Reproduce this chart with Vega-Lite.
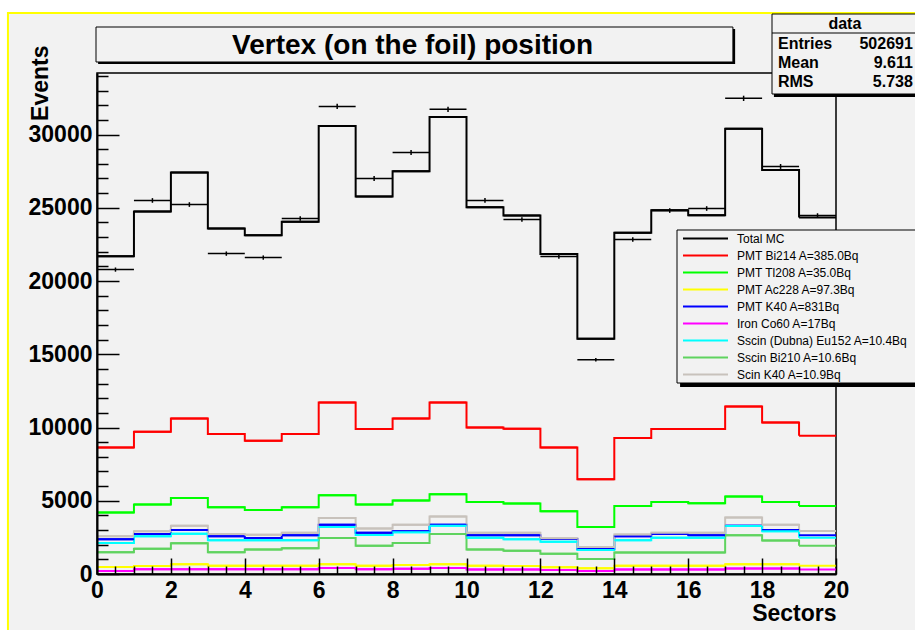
{
  "$schema": "https://vega.github.io/schema/vega-lite/v6.json",
  "width": 739,
  "height": 501,
  "autosize": {"type": "none"},
  "padding": {"left": 97, "top": 73, "right": 79, "bottom": 56},
  "background": "white",
  "config": {"view": {"stroke": null}, "font": "Liberation Sans"},
  "datasets": {
    "blank": [{}],
    "stats": [
      {"stat": "Entries", "value": "502691"},
      {"stat": "Mean", "value": "9.611"},
      {"stat": "RMS", "value": "5.738"}
    ],
    "obs": [
      {"lo": 0, "hi": 1, "mid": 0.5, "events": 20780, "err": 144},
      {"lo": 1, "hi": 2, "mid": 1.5, "events": 25500, "err": 160},
      {"lo": 2, "hi": 3, "mid": 2.5, "events": 25220, "err": 159},
      {"lo": 3, "hi": 4, "mid": 3.5, "events": 21870, "err": 148},
      {"lo": 4, "hi": 5, "mid": 4.5, "events": 21600, "err": 147},
      {"lo": 5, "hi": 6, "mid": 5.5, "events": 24270, "err": 156},
      {"lo": 6, "hi": 7, "mid": 6.5, "events": 31920, "err": 179},
      {"lo": 7, "hi": 8, "mid": 7.5, "events": 27000, "err": 164},
      {"lo": 8, "hi": 9, "mid": 8.5, "events": 28780, "err": 170},
      {"lo": 9, "hi": 10, "mid": 9.5, "events": 31720, "err": 178},
      {"lo": 10, "hi": 11, "mid": 10.5, "events": 25500, "err": 160},
      {"lo": 11, "hi": 12, "mid": 11.5, "events": 24200, "err": 156},
      {"lo": 12, "hi": 13, "mid": 12.5, "events": 21670, "err": 147},
      {"lo": 13, "hi": 14, "mid": 13.5, "events": 14630, "err": 121},
      {"lo": 14, "hi": 15, "mid": 14.5, "events": 22830, "err": 151},
      {"lo": 15, "hi": 16, "mid": 15.5, "events": 24810, "err": 158},
      {"lo": 16, "hi": 17, "mid": 16.5, "events": 24950, "err": 158},
      {"lo": 17, "hi": 18, "mid": 17.5, "events": 32470, "err": 180},
      {"lo": 18, "hi": 19, "mid": 18.5, "events": 27820, "err": 167},
      {"lo": 19, "hi": 20, "mid": 19.5, "events": 24470, "err": 156}
    ],
    "mc": [
      {"series": "Total MC", "lo": 0, "hi": 1, "events": 21690},
      {"series": "Total MC", "lo": 1, "hi": 2, "events": 24740},
      {"series": "Total MC", "lo": 2, "hi": 3, "events": 27410},
      {"series": "Total MC", "lo": 3, "hi": 4, "events": 23580},
      {"series": "Total MC", "lo": 4, "hi": 5, "events": 23120},
      {"series": "Total MC", "lo": 5, "hi": 6, "events": 24040},
      {"series": "Total MC", "lo": 6, "hi": 7, "events": 30580},
      {"series": "Total MC", "lo": 7, "hi": 8, "events": 25770},
      {"series": "Total MC", "lo": 8, "hi": 9, "events": 27500},
      {"series": "Total MC", "lo": 9, "hi": 10, "events": 31190},
      {"series": "Total MC", "lo": 10, "hi": 11, "events": 25040},
      {"series": "Total MC", "lo": 11, "hi": 12, "events": 24470},
      {"series": "Total MC", "lo": 12, "hi": 13, "events": 21850},
      {"series": "Total MC", "lo": 13, "hi": 14, "events": 16060},
      {"series": "Total MC", "lo": 14, "hi": 15, "events": 23290},
      {"series": "Total MC", "lo": 15, "hi": 16, "events": 24830},
      {"series": "Total MC", "lo": 16, "hi": 17, "events": 24490},
      {"series": "Total MC", "lo": 17, "hi": 18, "events": 30400},
      {"series": "Total MC", "lo": 18, "hi": 19, "events": 27570},
      {"series": "Total MC", "lo": 19, "hi": 20, "events": 24330},
      {"series": "PMT Bi214 A=385.0Bq", "lo": 0, "hi": 1, "events": 8630},
      {"series": "PMT Bi214 A=385.0Bq", "lo": 1, "hi": 2, "events": 9710},
      {"series": "PMT Bi214 A=385.0Bq", "lo": 2, "hi": 3, "events": 10620},
      {"series": "PMT Bi214 A=385.0Bq", "lo": 3, "hi": 4, "events": 9550},
      {"series": "PMT Bi214 A=385.0Bq", "lo": 4, "hi": 5, "events": 9090},
      {"series": "PMT Bi214 A=385.0Bq", "lo": 5, "hi": 6, "events": 9550},
      {"series": "PMT Bi214 A=385.0Bq", "lo": 6, "hi": 7, "events": 11710},
      {"series": "PMT Bi214 A=385.0Bq", "lo": 7, "hi": 8, "events": 9890},
      {"series": "PMT Bi214 A=385.0Bq", "lo": 8, "hi": 9, "events": 10620},
      {"series": "PMT Bi214 A=385.0Bq", "lo": 9, "hi": 10, "events": 11710},
      {"series": "PMT Bi214 A=385.0Bq", "lo": 10, "hi": 11, "events": 10000},
      {"series": "PMT Bi214 A=385.0Bq", "lo": 11, "hi": 12, "events": 9910},
      {"series": "PMT Bi214 A=385.0Bq", "lo": 12, "hi": 13, "events": 8630},
      {"series": "PMT Bi214 A=385.0Bq", "lo": 13, "hi": 14, "events": 6470},
      {"series": "PMT Bi214 A=385.0Bq", "lo": 14, "hi": 15, "events": 9280},
      {"series": "PMT Bi214 A=385.0Bq", "lo": 15, "hi": 16, "events": 9890},
      {"series": "PMT Bi214 A=385.0Bq", "lo": 16, "hi": 17, "events": 9890},
      {"series": "PMT Bi214 A=385.0Bq", "lo": 17, "hi": 18, "events": 11440},
      {"series": "PMT Bi214 A=385.0Bq", "lo": 18, "hi": 19, "events": 10340},
      {"series": "PMT Bi214 A=385.0Bq", "lo": 19, "hi": 20, "events": 9430},
      {"series": "PMT Tl208 A=35.0Bq", "lo": 0, "hi": 1, "events": 4190},
      {"series": "PMT Tl208 A=35.0Bq", "lo": 1, "hi": 2, "events": 4740},
      {"series": "PMT Tl208 A=35.0Bq", "lo": 2, "hi": 3, "events": 5190},
      {"series": "PMT Tl208 A=35.0Bq", "lo": 3, "hi": 4, "events": 4560},
      {"series": "PMT Tl208 A=35.0Bq", "lo": 4, "hi": 5, "events": 4370},
      {"series": "PMT Tl208 A=35.0Bq", "lo": 5, "hi": 6, "events": 4560},
      {"series": "PMT Tl208 A=35.0Bq", "lo": 6, "hi": 7, "events": 5380},
      {"series": "PMT Tl208 A=35.0Bq", "lo": 7, "hi": 8, "events": 4740},
      {"series": "PMT Tl208 A=35.0Bq", "lo": 8, "hi": 9, "events": 5010},
      {"series": "PMT Tl208 A=35.0Bq", "lo": 9, "hi": 10, "events": 5450},
      {"series": "PMT Tl208 A=35.0Bq", "lo": 10, "hi": 11, "events": 4920},
      {"series": "PMT Tl208 A=35.0Bq", "lo": 11, "hi": 12, "events": 4810},
      {"series": "PMT Tl208 A=35.0Bq", "lo": 12, "hi": 13, "events": 4290},
      {"series": "PMT Tl208 A=35.0Bq", "lo": 13, "hi": 14, "events": 3210},
      {"series": "PMT Tl208 A=35.0Bq", "lo": 14, "hi": 15, "events": 4650},
      {"series": "PMT Tl208 A=35.0Bq", "lo": 15, "hi": 16, "events": 4920},
      {"series": "PMT Tl208 A=35.0Bq", "lo": 16, "hi": 17, "events": 4830},
      {"series": "PMT Tl208 A=35.0Bq", "lo": 17, "hi": 18, "events": 5290},
      {"series": "PMT Tl208 A=35.0Bq", "lo": 18, "hi": 19, "events": 4920},
      {"series": "PMT Tl208 A=35.0Bq", "lo": 19, "hi": 20, "events": 4650},
      {"series": "PMT Ac228 A=97.3Bq", "lo": 0, "hi": 1, "events": 470},
      {"series": "PMT Ac228 A=97.3Bq", "lo": 1, "hi": 2, "events": 550},
      {"series": "PMT Ac228 A=97.3Bq", "lo": 2, "hi": 3, "events": 660},
      {"series": "PMT Ac228 A=97.3Bq", "lo": 3, "hi": 4, "events": 570},
      {"series": "PMT Ac228 A=97.3Bq", "lo": 4, "hi": 5, "events": 570},
      {"series": "PMT Ac228 A=97.3Bq", "lo": 5, "hi": 6, "events": 570},
      {"series": "PMT Ac228 A=97.3Bq", "lo": 6, "hi": 7, "events": 660},
      {"series": "PMT Ac228 A=97.3Bq", "lo": 7, "hi": 8, "events": 570},
      {"series": "PMT Ac228 A=97.3Bq", "lo": 8, "hi": 9, "events": 620},
      {"series": "PMT Ac228 A=97.3Bq", "lo": 9, "hi": 10, "events": 660},
      {"series": "PMT Ac228 A=97.3Bq", "lo": 10, "hi": 11, "events": 570},
      {"series": "PMT Ac228 A=97.3Bq", "lo": 11, "hi": 12, "events": 540},
      {"series": "PMT Ac228 A=97.3Bq", "lo": 12, "hi": 13, "events": 460},
      {"series": "PMT Ac228 A=97.3Bq", "lo": 13, "hi": 14, "events": 390},
      {"series": "PMT Ac228 A=97.3Bq", "lo": 14, "hi": 15, "events": 570},
      {"series": "PMT Ac228 A=97.3Bq", "lo": 15, "hi": 16, "events": 570},
      {"series": "PMT Ac228 A=97.3Bq", "lo": 16, "hi": 17, "events": 570},
      {"series": "PMT Ac228 A=97.3Bq", "lo": 17, "hi": 18, "events": 660},
      {"series": "PMT Ac228 A=97.3Bq", "lo": 18, "hi": 19, "events": 660},
      {"series": "PMT Ac228 A=97.3Bq", "lo": 19, "hi": 20, "events": 570},
      {"series": "PMT K40 A=831Bq", "lo": 0, "hi": 1, "events": 2370},
      {"series": "PMT K40 A=831Bq", "lo": 1, "hi": 2, "events": 2730},
      {"series": "PMT K40 A=831Bq", "lo": 2, "hi": 3, "events": 3010},
      {"series": "PMT K40 A=831Bq", "lo": 3, "hi": 4, "events": 2580},
      {"series": "PMT K40 A=831Bq", "lo": 4, "hi": 5, "events": 2460},
      {"series": "PMT K40 A=831Bq", "lo": 5, "hi": 6, "events": 2640},
      {"series": "PMT K40 A=831Bq", "lo": 6, "hi": 7, "events": 3370},
      {"series": "PMT K40 A=831Bq", "lo": 7, "hi": 8, "events": 2820},
      {"series": "PMT K40 A=831Bq", "lo": 8, "hi": 9, "events": 2920},
      {"series": "PMT K40 A=831Bq", "lo": 9, "hi": 10, "events": 3370},
      {"series": "PMT K40 A=831Bq", "lo": 10, "hi": 11, "events": 2640},
      {"series": "PMT K40 A=831Bq", "lo": 11, "hi": 12, "events": 2640},
      {"series": "PMT K40 A=831Bq", "lo": 12, "hi": 13, "events": 2390},
      {"series": "PMT K40 A=831Bq", "lo": 13, "hi": 14, "events": 1710},
      {"series": "PMT K40 A=831Bq", "lo": 14, "hi": 15, "events": 2580},
      {"series": "PMT K40 A=831Bq", "lo": 15, "hi": 16, "events": 2730},
      {"series": "PMT K40 A=831Bq", "lo": 16, "hi": 17, "events": 2640},
      {"series": "PMT K40 A=831Bq", "lo": 17, "hi": 18, "events": 3300},
      {"series": "PMT K40 A=831Bq", "lo": 18, "hi": 19, "events": 3010},
      {"series": "PMT K40 A=831Bq", "lo": 19, "hi": 20, "events": 2640},
      {"series": "Iron Co60 A=17Bq", "lo": 0, "hi": 1, "events": 200},
      {"series": "Iron Co60 A=17Bq", "lo": 1, "hi": 2, "events": 320},
      {"series": "Iron Co60 A=17Bq", "lo": 2, "hi": 3, "events": 320},
      {"series": "Iron Co60 A=17Bq", "lo": 3, "hi": 4, "events": 320},
      {"series": "Iron Co60 A=17Bq", "lo": 4, "hi": 5, "events": 320},
      {"series": "Iron Co60 A=17Bq", "lo": 5, "hi": 6, "events": 320},
      {"series": "Iron Co60 A=17Bq", "lo": 6, "hi": 7, "events": 410},
      {"series": "Iron Co60 A=17Bq", "lo": 7, "hi": 8, "events": 320},
      {"series": "Iron Co60 A=17Bq", "lo": 8, "hi": 9, "events": 350},
      {"series": "Iron Co60 A=17Bq", "lo": 9, "hi": 10, "events": 410},
      {"series": "Iron Co60 A=17Bq", "lo": 10, "hi": 11, "events": 300},
      {"series": "Iron Co60 A=17Bq", "lo": 11, "hi": 12, "events": 300},
      {"series": "Iron Co60 A=17Bq", "lo": 12, "hi": 13, "events": 280},
      {"series": "Iron Co60 A=17Bq", "lo": 13, "hi": 14, "events": 200},
      {"series": "Iron Co60 A=17Bq", "lo": 14, "hi": 15, "events": 300},
      {"series": "Iron Co60 A=17Bq", "lo": 15, "hi": 16, "events": 300},
      {"series": "Iron Co60 A=17Bq", "lo": 16, "hi": 17, "events": 300},
      {"series": "Iron Co60 A=17Bq", "lo": 17, "hi": 18, "events": 380},
      {"series": "Iron Co60 A=17Bq", "lo": 18, "hi": 19, "events": 380},
      {"series": "Iron Co60 A=17Bq", "lo": 19, "hi": 20, "events": 300},
      {"series": "Sscin (Dubna) Eu152 A=10.4Bq", "lo": 0, "hi": 1, "events": 2120},
      {"series": "Sscin (Dubna) Eu152 A=10.4Bq", "lo": 1, "hi": 2, "events": 2580},
      {"series": "Sscin (Dubna) Eu152 A=10.4Bq", "lo": 2, "hi": 3, "events": 2750},
      {"series": "Sscin (Dubna) Eu152 A=10.4Bq", "lo": 3, "hi": 4, "events": 2300},
      {"series": "Sscin (Dubna) Eu152 A=10.4Bq", "lo": 4, "hi": 5, "events": 2300},
      {"series": "Sscin (Dubna) Eu152 A=10.4Bq", "lo": 5, "hi": 6, "events": 2300},
      {"series": "Sscin (Dubna) Eu152 A=10.4Bq", "lo": 6, "hi": 7, "events": 3210},
      {"series": "Sscin (Dubna) Eu152 A=10.4Bq", "lo": 7, "hi": 8, "events": 2660},
      {"series": "Sscin (Dubna) Eu152 A=10.4Bq", "lo": 8, "hi": 9, "events": 2850},
      {"series": "Sscin (Dubna) Eu152 A=10.4Bq", "lo": 9, "hi": 10, "events": 3300},
      {"series": "Sscin (Dubna) Eu152 A=10.4Bq", "lo": 10, "hi": 11, "events": 2480},
      {"series": "Sscin (Dubna) Eu152 A=10.4Bq", "lo": 11, "hi": 12, "events": 2370},
      {"series": "Sscin (Dubna) Eu152 A=10.4Bq", "lo": 12, "hi": 13, "events": 2210},
      {"series": "Sscin (Dubna) Eu152 A=10.4Bq", "lo": 13, "hi": 14, "events": 1640},
      {"series": "Sscin (Dubna) Eu152 A=10.4Bq", "lo": 14, "hi": 15, "events": 2300},
      {"series": "Sscin (Dubna) Eu152 A=10.4Bq", "lo": 15, "hi": 16, "events": 2480},
      {"series": "Sscin (Dubna) Eu152 A=10.4Bq", "lo": 16, "hi": 17, "events": 2480},
      {"series": "Sscin (Dubna) Eu152 A=10.4Bq", "lo": 17, "hi": 18, "events": 3280},
      {"series": "Sscin (Dubna) Eu152 A=10.4Bq", "lo": 18, "hi": 19, "events": 2920},
      {"series": "Sscin (Dubna) Eu152 A=10.4Bq", "lo": 19, "hi": 20, "events": 2480},
      {"series": "Sscin Bi210 A=10.6Bq", "lo": 0, "hi": 1, "events": 1480},
      {"series": "Sscin Bi210 A=10.6Bq", "lo": 1, "hi": 2, "events": 1730},
      {"series": "Sscin Bi210 A=10.6Bq", "lo": 2, "hi": 3, "events": 2100},
      {"series": "Sscin Bi210 A=10.6Bq", "lo": 3, "hi": 4, "events": 1480},
      {"series": "Sscin Bi210 A=10.6Bq", "lo": 4, "hi": 5, "events": 1670},
      {"series": "Sscin Bi210 A=10.6Bq", "lo": 5, "hi": 6, "events": 1750},
      {"series": "Sscin Bi210 A=10.6Bq", "lo": 6, "hi": 7, "events": 2460},
      {"series": "Sscin Bi210 A=10.6Bq", "lo": 7, "hi": 8, "events": 1930},
      {"series": "Sscin Bi210 A=10.6Bq", "lo": 8, "hi": 9, "events": 2120},
      {"series": "Sscin Bi210 A=10.6Bq", "lo": 9, "hi": 10, "events": 2730},
      {"series": "Sscin Bi210 A=10.6Bq", "lo": 10, "hi": 11, "events": 1670},
      {"series": "Sscin Bi210 A=10.6Bq", "lo": 11, "hi": 12, "events": 1590},
      {"series": "Sscin Bi210 A=10.6Bq", "lo": 12, "hi": 13, "events": 1390},
      {"series": "Sscin Bi210 A=10.6Bq", "lo": 13, "hi": 14, "events": 1030},
      {"series": "Sscin Bi210 A=10.6Bq", "lo": 14, "hi": 15, "events": 1460},
      {"series": "Sscin Bi210 A=10.6Bq", "lo": 15, "hi": 16, "events": 1460},
      {"series": "Sscin Bi210 A=10.6Bq", "lo": 16, "hi": 17, "events": 1460},
      {"series": "Sscin Bi210 A=10.6Bq", "lo": 17, "hi": 18, "events": 2640},
      {"series": "Sscin Bi210 A=10.6Bq", "lo": 18, "hi": 19, "events": 2280},
      {"series": "Sscin Bi210 A=10.6Bq", "lo": 19, "hi": 20, "events": 1930},
      {"series": "Scin K40 A=10.9Bq", "lo": 0, "hi": 1, "events": 2580},
      {"series": "Scin K40 A=10.9Bq", "lo": 1, "hi": 2, "events": 2920},
      {"series": "Scin K40 A=10.9Bq", "lo": 2, "hi": 3, "events": 3300},
      {"series": "Scin K40 A=10.9Bq", "lo": 3, "hi": 4, "events": 2730},
      {"series": "Scin K40 A=10.9Bq", "lo": 4, "hi": 5, "events": 2680},
      {"series": "Scin K40 A=10.9Bq", "lo": 5, "hi": 6, "events": 2820},
      {"series": "Scin K40 A=10.9Bq", "lo": 6, "hi": 7, "events": 3830},
      {"series": "Scin K40 A=10.9Bq", "lo": 7, "hi": 8, "events": 3100},
      {"series": "Scin K40 A=10.9Bq", "lo": 8, "hi": 9, "events": 3370},
      {"series": "Scin K40 A=10.9Bq", "lo": 9, "hi": 10, "events": 3920},
      {"series": "Scin K40 A=10.9Bq", "lo": 10, "hi": 11, "events": 2820},
      {"series": "Scin K40 A=10.9Bq", "lo": 11, "hi": 12, "events": 2820},
      {"series": "Scin K40 A=10.9Bq", "lo": 12, "hi": 13, "events": 2440},
      {"series": "Scin K40 A=10.9Bq", "lo": 13, "hi": 14, "events": 1850},
      {"series": "Scin K40 A=10.9Bq", "lo": 14, "hi": 15, "events": 2690},
      {"series": "Scin K40 A=10.9Bq", "lo": 15, "hi": 16, "events": 2820},
      {"series": "Scin K40 A=10.9Bq", "lo": 16, "hi": 17, "events": 2820},
      {"series": "Scin K40 A=10.9Bq", "lo": 17, "hi": 18, "events": 3850},
      {"series": "Scin K40 A=10.9Bq", "lo": 18, "hi": 19, "events": 3370},
      {"series": "Scin K40 A=10.9Bq", "lo": 19, "hi": 20, "events": 2940}
    ]
  },
  "layer": [
    {
      "data": {"name": "blank"},
      "mark": {"type": "rect", "fill": "#f2f2f2", "stroke": "#ffff00", "strokeWidth": 2},
      "encoding": {
        "x": {"datum": -2.41, "type": "quantitative"},
        "x2": {"datum": 22.6},
        "y": {"datum": 38296, "type": "quantitative"},
        "y2": {"datum": -6000}
      }
    },
    {
      "data": {"name": "blank"},
      "mark": {"type": "rect", "fill": "transparent", "stroke": "black", "strokeWidth": 1.5},
      "encoding": {
        "x": {"datum": 0, "type": "quantitative"},
        "x2": {"datum": 20},
        "y": {"datum": 0, "type": "quantitative"},
        "y2": {"datum": 34200}
      }
    },
    {
      "data": {"name": "mc"},
      "mark": {"type": "line", "interpolate": "step-after", "strokeWidth": 2},
      "encoding": {
        "x": {
          "field": "lo", "type": "quantitative", "title": "Sectors",
          "scale": {"domain": [0, 20], "nice": false, "zero": false},
          "axis": {
            "values": [0,0.5,1,1.5,2,2.5,3,3.5,4,4.5,5,5.5,6,6.5,7,7.5,8,8.5,9,9.5,10,10.5,11,11.5,12,12.5,13,13.5,14,14.5,15,15.5,16,16.5,17,17.5,18,18.5,19,19.5,20],
            "tickCount": 200,
            "labelExpr": "datum.value % 2 == 0 ? format(datum.value, 'd') : ''",
            "tickSize": {"condition": {"test": "datum.value % 2 == 0", "value": -16}, "value": -8},
            "tickColor": "black", "tickWidth": 1.5,
            "domainColor": "black", "domainWidth": 2,
            "labelFont": "Liberation Sans", "labelFontWeight": "bold", "labelFontSize": 23, "labelColor": "black",
            "labelPadding": 21, "labelBaseline": "top", "labelFlush": false, "labelOverlap": false, "labelBound": false,
            "grid": false,
            "titleFont": "Liberation Sans", "titleFontWeight": "bold", "titleFontSize": 23, "titleColor": "black",
            "titleAlign": "right", "titleBaseline": "alphabetic", "titleX": 739, "titleY": 46,
            "zindex": 1
          }
        },
        "y": {
          "field": "events", "type": "quantitative", "title": "Events",
          "scale": {"domain": [0, 34200], "nice": false, "zero": true},
          "axis": {
            "values": [0,1000,2000,3000,4000,5000,6000,7000,8000,9000,10000,11000,12000,13000,14000,15000,16000,17000,18000,19000,20000,21000,22000,23000,24000,25000,26000,27000,28000,29000,30000,31000,32000,33000,34000],
            "tickCount": 200,
            "labelExpr": "datum.value % 5000 == 0 ? format(datum.value, 'd') : ''",
            "tickSize": {"condition": {"test": "datum.value % 5000 == 0", "value": -22}, "value": -11},
            "tickColor": "black", "tickWidth": 1.5,
            "domainColor": "black", "domainWidth": 2,
            "labelFont": "Liberation Sans", "labelFontWeight": "bold", "labelFontSize": 23, "labelColor": "black",
            "labelPadding": 27, "labelBaseline": "middle", "labelOverlap": false, "labelBound": false,
            "grid": false,
            "titleFont": "Liberation Sans", "titleFontWeight": "bold", "titleFontSize": 23, "titleColor": "black",
            "titleAngle": 270, "titleAlign": "right", "titleBaseline": "alphabetic", "titleX": -50, "titleY": -28,
            "zindex": 1
          }
        },
        "color": {
          "field": "series", "type": "nominal",
          "scale": {
            "domain": ["Total MC", "PMT Bi214 A=385.0Bq", "PMT Tl208 A=35.0Bq", "PMT Ac228 A=97.3Bq", "PMT K40 A=831Bq", "Iron Co60 A=17Bq", "Sscin (Dubna) Eu152 A=10.4Bq", "Sscin Bi210 A=10.6Bq", "Scin K40 A=10.9Bq"],
            "range": ["#000000", "#ff0000", "#00ff00", "#ffff00", "#0000ff", "#ff00ff", "#00ffff", "#5fd35f", "#c8c2bc"]
          },
          "legend": {
            "orient": "none", "legendX": 580, "legendY": 157, "title": null,
            "symbolType": "M-3,0H3", "symbolSize": 225, "symbolStrokeWidth": 2, "symbolOffset": 20,
            "labelFont": "Liberation Sans", "labelFontSize": 12, "labelColor": "black", "labelOffset": 23, "labelLimit": 300,
            "padding": 0, "rowPadding": 2
          }
        }
      }
    },
    {
      "data": {"name": "mc"},
      "mark": {"type": "rule", "strokeWidth": 2},
      "encoding": {
        "x": {"field": "lo", "type": "quantitative", "title": "Sectors"},
        "x2": {"field": "hi"},
        "y": {"field": "events", "type": "quantitative", "title": "Events"},
        "color": {"field": "series", "type": "nominal"}
      }
    },
    {
      "data": {"name": "obs"},
      "mark": {"type": "rule", "color": "black", "strokeWidth": 1.5},
      "encoding": {
        "x": {"field": "lo", "type": "quantitative", "title": "Sectors"},
        "x2": {"field": "hi"},
        "y": {"field": "events", "type": "quantitative", "title": "Events"}
      }
    },
    {
      "data": {"name": "obs"},
      "mark": {"type": "errorbar", "ticks": false, "color": "black", "thickness": 1.5},
      "encoding": {
        "x": {"field": "mid", "type": "quantitative", "title": "Sectors"},
        "y": {"field": "events", "type": "quantitative", "title": "Events"},
        "yError": {"field": "err"}
      }
    },
    {
      "data": {"name": "blank"},
      "mark": {"type": "rect", "fill": "black"},
      "encoding": {
        "x": {"datum": 0.03, "type": "quantitative"},
        "x2": {"datum": 17.27},
        "y": {"datum": 37203, "type": "quantitative"},
        "y2": {"datum": 34814}
      }
    },
    {
      "data": {"name": "blank"},
      "mark": {"type": "rect", "fill": "#f2f2f2", "stroke": "black", "strokeWidth": 1},
      "encoding": {
        "x": {"datum": -0.027, "type": "quantitative"},
        "x2": {"datum": 17.21},
        "y": {"datum": 37340, "type": "quantitative"},
        "y2": {"datum": 34951}
      }
    },
    {
      "data": {"name": "blank"},
      "mark": {"type": "text", "font": "Liberation Sans", "fontWeight": "bold", "fontSize": 28, "align": "center", "baseline": "alphabetic", "color": "black"},
      "encoding": {
        "x": {"datum": 8.54, "type": "quantitative"},
        "y": {"datum": 35497, "type": "quantitative"},
        "text": {"value": "Vertex (on the foil) position"}
      }
    },
    {
      "data": {"name": "blank"},
      "mark": {"type": "rect", "fill": "black"},
      "encoding": {
        "x": {"datum": 18.32, "type": "quantitative"},
        "x2": {"datum": 22.6},
        "y": {"datum": 38091, "type": "quantitative"},
        "y2": {"datum": 32561}
      }
    },
    {
      "data": {"name": "blank"},
      "mark": {"type": "rect", "fill": "#f2f2f2", "stroke": "black", "strokeWidth": 1},
      "encoding": {
        "x": {"datum": 18.268, "type": "quantitative"},
        "x2": {"datum": 22.6},
        "y": {"datum": 38227, "type": "quantitative"},
        "y2": {"datum": 32766}
      }
    },
    {
      "data": {"name": "blank"},
      "mark": {"type": "rule", "color": "black", "strokeWidth": 1},
      "encoding": {
        "x": {"datum": 18.268, "type": "quantitative"},
        "x2": {"datum": 22.6},
        "y": {"datum": 36930, "type": "quantitative"}
      }
    },
    {
      "data": {"name": "blank"},
      "mark": {"type": "text", "font": "Liberation Sans", "fontWeight": "bold", "fontSize": 16, "align": "center", "baseline": "alphabetic", "color": "black"},
      "encoding": {
        "x": {"datum": 20.24, "type": "quantitative"},
        "y": {"datum": 37203, "type": "quantitative"},
        "text": {"value": "data"}
      }
    },
    {
      "data": {"name": "stats"},
      "transform": [{"filter": "datum.stat == 'Entries'"}],
      "mark": {"type": "text", "font": "Liberation Sans", "fontWeight": "bold", "fontSize": 16, "align": "left", "baseline": "alphabetic", "color": "black"},
      "encoding": {
        "x": {"datum": 18.43, "type": "quantitative"},
        "y": {"datum": 35838, "type": "quantitative"},
        "text": {"field": "stat", "type": "nominal"}
      }
    },
    {
      "data": {"name": "stats"},
      "transform": [{"filter": "datum.stat == 'Entries'"}],
      "mark": {"type": "text", "font": "Liberation Sans", "fontWeight": "bold", "fontSize": 16, "align": "right", "baseline": "alphabetic", "color": "black"},
      "encoding": {
        "x": {"datum": 22.08, "type": "quantitative"},
        "y": {"datum": 35838, "type": "quantitative"},
        "text": {"field": "value", "type": "nominal"}
      }
    },
    {
      "data": {"name": "stats"},
      "transform": [{"filter": "datum.stat == 'Mean'"}],
      "mark": {"type": "text", "font": "Liberation Sans", "fontWeight": "bold", "fontSize": 16, "align": "left", "baseline": "alphabetic", "color": "black"},
      "encoding": {
        "x": {"datum": 18.43, "type": "quantitative"},
        "y": {"datum": 34541, "type": "quantitative"},
        "text": {"field": "stat", "type": "nominal"}
      }
    },
    {
      "data": {"name": "stats"},
      "transform": [{"filter": "datum.stat == 'Mean'"}],
      "mark": {"type": "text", "font": "Liberation Sans", "fontWeight": "bold", "fontSize": 16, "align": "right", "baseline": "alphabetic", "color": "black"},
      "encoding": {
        "x": {"datum": 22.08, "type": "quantitative"},
        "y": {"datum": 34541, "type": "quantitative"},
        "text": {"field": "value", "type": "nominal"}
      }
    },
    {
      "data": {"name": "stats"},
      "transform": [{"filter": "datum.stat == 'RMS'"}],
      "mark": {"type": "text", "font": "Liberation Sans", "fontWeight": "bold", "fontSize": 16, "align": "left", "baseline": "alphabetic", "color": "black"},
      "encoding": {
        "x": {"datum": 18.43, "type": "quantitative"},
        "y": {"datum": 33244, "type": "quantitative"},
        "text": {"field": "stat", "type": "nominal"}
      }
    },
    {
      "data": {"name": "stats"},
      "transform": [{"filter": "datum.stat == 'RMS'"}],
      "mark": {"type": "text", "font": "Liberation Sans", "fontWeight": "bold", "fontSize": 16, "align": "right", "baseline": "alphabetic", "color": "black"},
      "encoding": {
        "x": {"datum": 22.08, "type": "quantitative"},
        "y": {"datum": 33244, "type": "quantitative"},
        "text": {"field": "value", "type": "nominal"}
      }
    },
    {
      "data": {"name": "blank"},
      "mark": {"type": "rect", "fill": "black"},
      "encoding": {
        "x": {"datum": 15.78, "type": "quantitative"},
        "x2": {"datum": 22.6},
        "y": {"datum": 23278, "type": "quantitative"},
        "y2": {"datum": 12765}
      }
    },
    {
      "data": {"name": "blank"},
      "mark": {"type": "rect", "fill": "#f2f2f2", "stroke": "black", "strokeWidth": 1},
      "encoding": {
        "x": {"datum": 15.697, "type": "quantitative"},
        "x2": {"datum": 22.6},
        "y": {"datum": 23482, "type": "quantitative"},
        "y2": {"datum": 13038}
      }
    }
  ]
}
